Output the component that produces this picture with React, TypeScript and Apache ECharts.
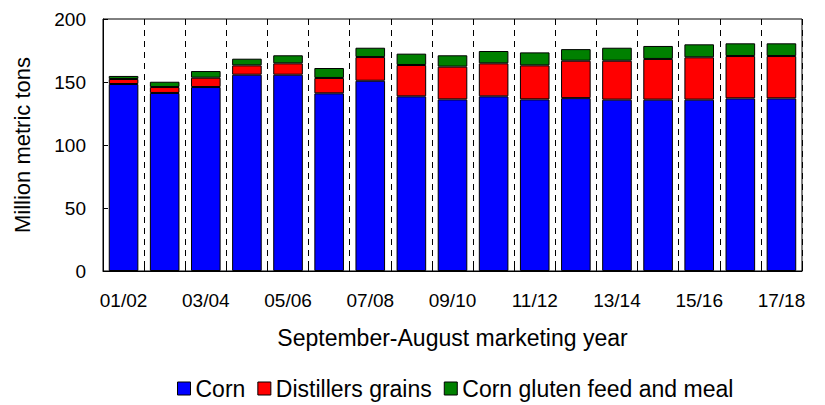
import React, { useEffect, useRef } from "react";
import * as echarts from "echarts";

const categories = ["01/02","02/03","03/04","04/05","05/06","06/07","07/08","08/09","09/10","10/11","11/12","12/13","13/14","14/15","15/16","16/17","17/18"];
const corn = [148.4, 141.3, 146.0, 155.8, 155.8, 141.0, 151.0, 138.6, 136.2, 138.6, 136.2, 137.2, 136.0, 136.0, 136.0, 137.0, 137.0];
const distillersGrains = [4.0, 4.7, 7.4, 7.4, 9.0, 12.2, 18.8, 24.9, 26.0, 26.2, 27.0, 29.7, 30.9, 32.3, 33.6, 33.6, 33.6];
const glutenFeedMeal = [2.4, 4.2, 5.3, 5.3, 6.4, 7.9, 7.4, 9.0, 9.0, 9.8, 10.3, 9.2, 10.3, 10.3, 10.3, 10.1, 10.1];
const yTicks = { min: 0, max: 200, interval: 50 };

const FONT = "Liberation Sans";

export default function App() {
  const ref = useRef<HTMLDivElement>(null);
  useEffect(() => {
    if (!ref.current) return;
    const chart = echarts.init(ref.current, undefined, { renderer: "svg" });
    const mkSeries = (name: string, data: number[], color: string) => ({
      name,
      type: "bar",
      stack: "total",
      data,
      barCategoryGap: "28%",
      itemStyle: { color, borderColor: "#000", borderWidth: 1 },
    });
    chart.setOption({
      animation: false,
      textStyle: { fontFamily: FONT, color: "#000" },
      grid: {
        left: 103, right: 23, top: 19, bottom: 134,
        show: true, borderColor: "#000", borderWidth: 1, backgroundColor: "transparent",
      },
      legend: {
        bottom: 0,
        left: 172,
        itemWidth: 13,
        itemHeight: 13,
        itemGap: 12,
        icon: "rect",
        textStyle: { fontFamily: FONT, fontSize: 23, color: "#000" },
        data: [
          { name: "Corn", itemStyle: { color: "#0000FF", borderColor: "#000", borderWidth: 1 } },
          { name: "Distillers grains", itemStyle: { color: "#FF0000", borderColor: "#000", borderWidth: 1 } },
          { name: "Corn gluten feed and meal", itemStyle: { color: "#008000", borderColor: "#000", borderWidth: 1 } },
        ],
      },
      xAxis: {
        type: "category",
        data: categories,
        name: "September-August marketing year",
        nameLocation: "middle",
        nameGap: 55,
        nameTextStyle: { fontFamily: FONT, fontSize: 23, color: "#000" },
        axisLine: { lineStyle: { color: "#000", width: 1 } },
        axisTick: { show: true, inside: true, length: 5, interval: 0, lineStyle: { color: "#000" } },
        axisLabel: { interval: 1, margin: 20, fontFamily: FONT, fontSize: 19, color: "#000" },
        splitLine: { show: true, interval: 0, lineStyle: { color: "#000", type: [6, 5], width: 1 } },
      },
      yAxis: {
        type: "value",
        min: yTicks.min,
        max: yTicks.max,
        interval: yTicks.interval,
        name: "Million metric tons",
        nameLocation: "middle",
        nameGap: 70,
        nameTextStyle: { fontFamily: FONT, fontSize: 22, color: "#000" },
        axisLine: { show: true, lineStyle: { color: "#000", width: 1 } },
        axisTick: { show: true, inside: true, length: 5, lineStyle: { color: "#000" } },
        axisLabel: { margin: 17, fontFamily: FONT, fontSize: 19, color: "#000" },
        splitLine: { show: false },
      },
      series: [
        mkSeries("Corn", corn, "#0000FF"),
        mkSeries("Distillers grains", distillersGrains, "#FF0000"),
        mkSeries("Corn gluten feed and meal", glutenFeedMeal, "#008000"),
      ],
    });
    return () => chart.dispose();
  }, []);
  return (
    <div
      ref={ref}
      style={{ position: "absolute", left: 0, top: 0, width: 825, height: 405, background: "#fff" }}
    />
  );
}
